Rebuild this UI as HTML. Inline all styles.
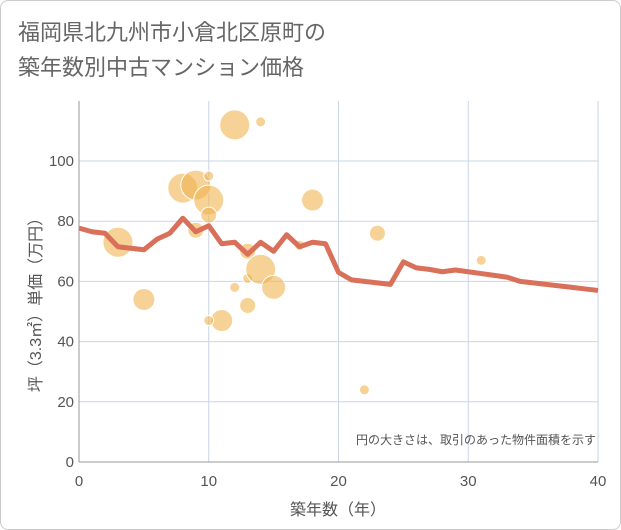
<!DOCTYPE html>
<html><head><meta charset="utf-8"><style>
body{margin:0;background:#fff;}
#wrap{position:relative;width:619px;height:528px;border:1px solid #ccc;border-radius:8px;overflow:hidden;font-family:"Liberation Sans","Noto Sans CJK JP",sans-serif;}
#title{position:absolute;left:17px;top:14px;font-size:22px;line-height:35px;color:#666;}
svg{position:absolute;left:0;top:0;}
</style></head><body>
<div id="wrap">
<div id="title">福岡県北九州市小倉北区原町の<br>築年数別中古マンション価格</div>
<svg id="chart" width="621" height="530"></svg>
</div>
<script>
const xTicks=[0,10,20,30,40];
const yTicks=[0,20,40,60,80,100];
const lineYears=[0,1,2,3,4,5,6,7,8,9,10,11,12,13,14,15,16,17,18,19,20,21,22,23,24,25,26,27,28,29,30,31,32,33,34,35,36,37,38,39,40];
const linePrices=[77.7,76.5,76,71.5,71,70.5,74,76,81,76.5,78.5,72.5,73,69,73,70,75.5,71.5,73,72.5,63,60.5,60,59.5,59,66.5,64.5,64,63.2,63.8,63.2,62.6,62,61.4,60,59.5,59,58.5,58,57.5,57];
const bubbleX=[3,5,8,9,10,9,10,10,12,14,11,10,12,13,13,13,14,15,17,18,23,22,31];
const bubbleY=[73,54,91,92,87,77,82,95,112,113,47,47,58,52,70,61,64,58,72,87,76,24,67];
const bubbleR=[15,11,15,15,15,8,8,5,15,5,11,5,5,8,8,5,15,12,5,11,8,5,5];
const NS="http://www.w3.org/2000/svg";
const svg=document.getElementById('chart');
const X0=78,X1=597,Y0=461,YT=100;
const sx=v=>X0+(v-0)/40*(X1-X0);
const sy=v=>Y0-v*3.01;
function mk(t,a){const e=document.createElementNS(NS,t);for(const k in a)e.setAttribute(k,a[k]);svg.appendChild(e);return e;}
let e;
e=mk('rect',{x:X0,y:YT,width:X1-X0,height:Y0-YT,fill:'#fff'});


xTicks.forEach(t=>{
 e=mk('line',{x1:sx(t),x2:sx(t),y1:YT,y2:Y0,stroke:'#c8d6e6','stroke-width':1});
 
 
 e=mk('text',{x:sx(t),y:Y0+24,'text-anchor':'middle','font-size':15,fill:'#555'});
 e.textContent=t;
 
 
});
yTicks.forEach(t=>{
 e=mk('line',{x1:X0,x2:X1,y1:sy(t),y2:sy(t),stroke:'#c8d6e6','stroke-width':1});
 
 
 e=mk('text',{x:X0-5,y:sy(t)+5,'text-anchor':'end','font-size':15,fill:'#555'});
 e.textContent=t;
 
 
});
e=mk('line',{x1:X0,x2:X0,y1:YT,y2:Y0,stroke:'#999'});


e=mk('line',{x1:X0,x2:X1,y1:Y0,y2:Y0,stroke:'#999'});


bubbleX.forEach((bx,i)=>{
 e=mk('circle',{cx:sx(bx),cy:sy(bubbleY[i]),r:bubbleR[i],fill:'rgba(240,180,80,0.6)',stroke:'#fff','stroke-width':1});
 
 
});
e=mk('polyline',{points:lineYears.map((y,i)=>sx(y)+','+sy(linePrices[i])).join(' '),fill:'none',stroke:'#d9705a','stroke-width':5,'stroke-linejoin':'round'});


e=mk('text',{x:595,y:443,'text-anchor':'end','font-size':12,fill:'#555'});
e.textContent='円の大きさは、取引のあった物件面積を示す';


e=mk('text',{x:337,y:514,'text-anchor':'middle','font-size':16,fill:'#555'});
e.textContent='築年数（年）';


e=mk('text',{x:0,y:0,'text-anchor':'middle','font-size':16,fill:'#555',transform:'translate(40,300) rotate(-90)'});
e.textContent='坪（3.3㎡）単価（万円）';


</script>
</body></html>
